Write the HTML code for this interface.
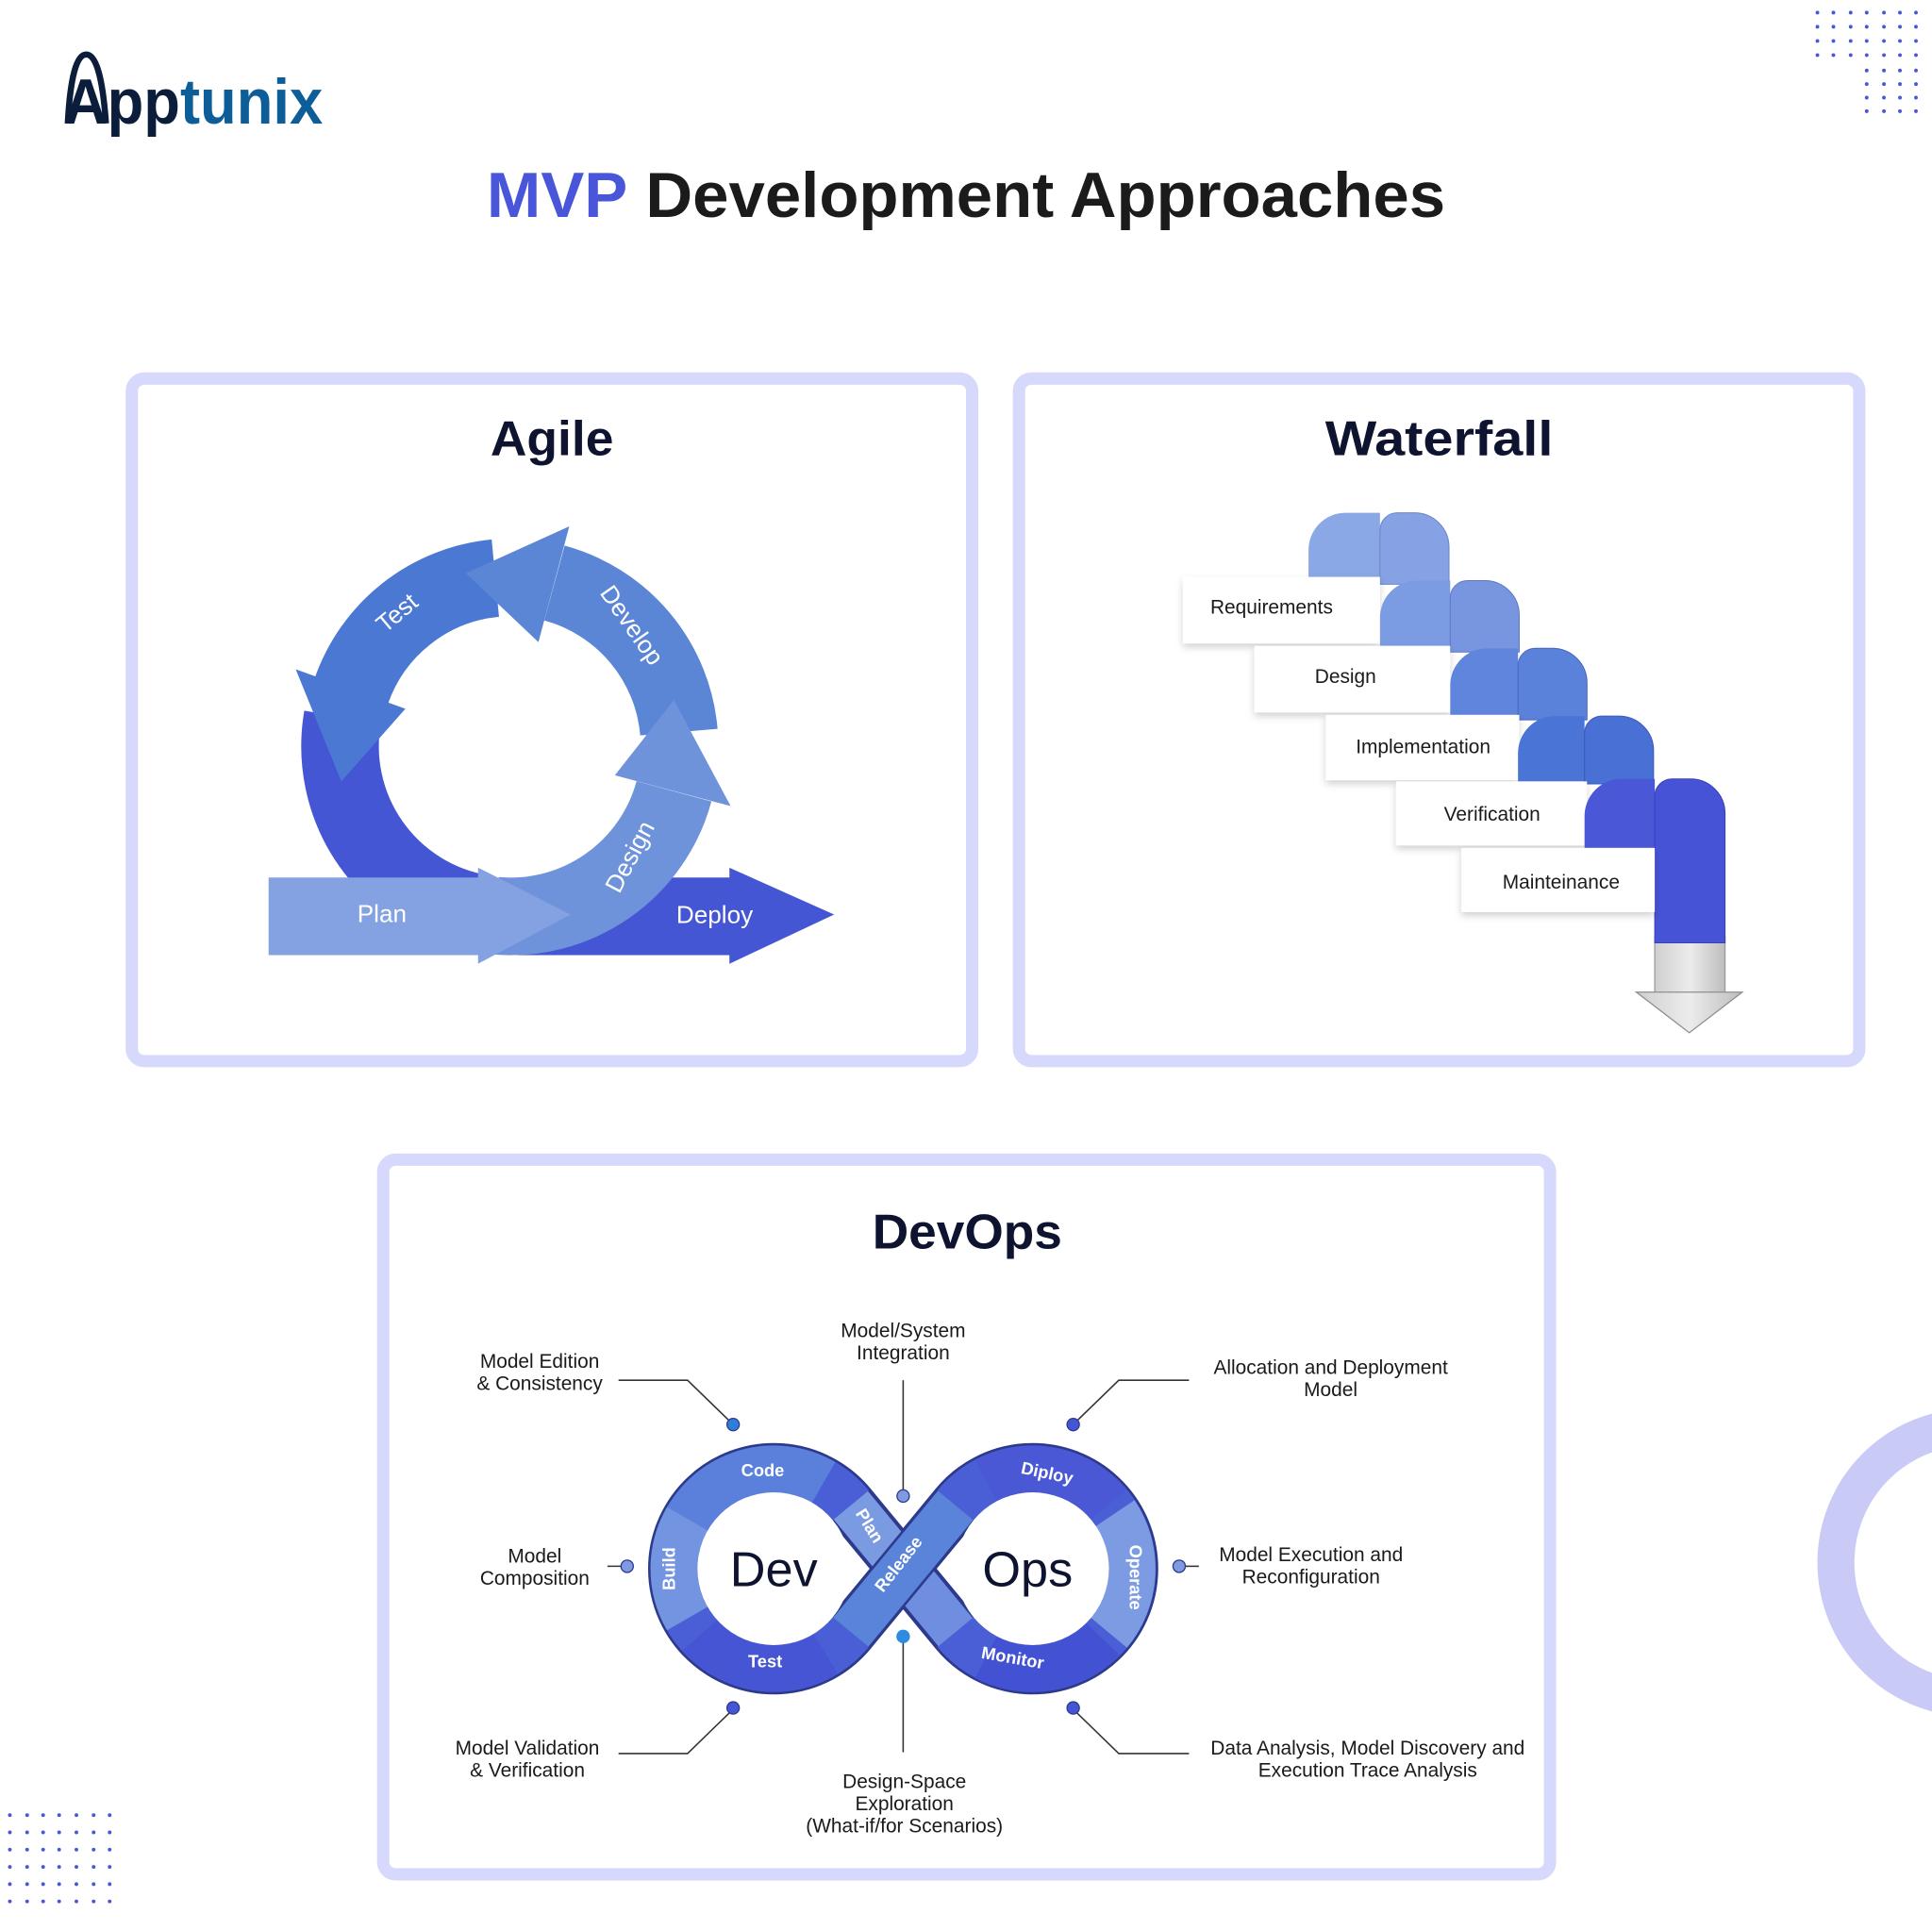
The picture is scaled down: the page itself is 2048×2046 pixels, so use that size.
<!DOCTYPE html>
<html><head><meta charset="utf-8"><style>
html,body{margin:0;padding:0;background:#fff;}
svg{display:block;}
text{font-family:"Liberation Sans",sans-serif;}
</style></head><body>
<svg width="2048" height="2046" viewBox="0 0 1568 1566" xmlns="http://www.w3.org/2000/svg">
<defs>
<linearGradient id="gr" x1="0" y1="0" x2="1" y2="0"><stop offset="0" stop-color="#cfcfcf"/><stop offset="0.5" stop-color="#ececec"/><stop offset="1" stop-color="#bdbdbd"/></linearGradient>
<filter id="sh" x="-20%" y="-20%" width="140%" height="160%"><feDropShadow dx="0" dy="3" stdDeviation="3" flood-color="#000" flood-opacity="0.18"/></filter>
</defs>
<rect width="1568" height="1566" fill="#fff"/>

<!-- decor dots top right -->
<g fill="#4a56d9">
<g id="r1"><circle cx="1475" cy="10" r="1.5"/><circle cx="1488" cy="10" r="1.5"/><circle cx="1502" cy="10" r="1.5"/><circle cx="1515" cy="10" r="1.5"/><circle cx="1529" cy="10" r="1.5"/><circle cx="1542" cy="10" r="1.5"/><circle cx="1555" cy="10" r="1.5"/></g>
<use href="#r1" y="11.5"/><use href="#r1" y="23"/><use href="#r1" y="34.5"/>
<g id="r2"><circle cx="1515" cy="57" r="1.5"/><circle cx="1529" cy="57" r="1.5"/><circle cx="1542" cy="57" r="1.5"/><circle cx="1555" cy="57" r="1.5"/></g>
<use href="#r2" y="11"/><use href="#r2" y="22"/><use href="#r2" y="33"/>
</g>
<!-- decor dots bottom left -->
<g fill="#4a56d9">
<g id="r3"><circle cx="8" cy="1473" r="1.5"/><circle cx="22" cy="1473" r="1.5"/><circle cx="35" cy="1473" r="1.5"/><circle cx="48" cy="1473" r="1.5"/><circle cx="62" cy="1473" r="1.5"/><circle cx="76" cy="1473" r="1.5"/><circle cx="89" cy="1473" r="1.5"/></g>
<use href="#r3" y="14"/><use href="#r3" y="28"/><use href="#r3" y="42"/><use href="#r3" y="56"/><use href="#r3" y="70"/>
</g>
<!-- right ring -->
<circle cx="1600" cy="1268" r="110" fill="none" stroke="#c9cbf6" stroke-width="30"/>

<!-- logo -->
<path d="M55,100 Q58,44 70,44 Q82,44 86,100" fill="none" stroke="#0b1d3a" stroke-width="5"/>
<text x="52" y="100" font-size="52" font-weight="bold" fill="#0b1d3a" textLength="210" lengthAdjust="spacingAndGlyphs">App<tspan fill="#0d5e98">tunix</tspan></text>

<!-- title -->
<text x="395" y="176" font-size="52" font-weight="bold" fill="#1b1b1b" textLength="778" lengthAdjust="spacingAndGlyphs"><tspan fill="#4a56d9">MVP</tspan> Development Approaches</text>

<!-- boxes -->
<rect x="107" y="307" width="682" height="554" rx="10" fill="#fff" stroke="#d6d9fb" stroke-width="10"/>
<rect x="827" y="307" width="682" height="554" rx="10" fill="#fff" stroke="#d6d9fb" stroke-width="10"/>
<rect x="311" y="941" width="947" height="580" rx="10" fill="#fff" stroke="#d6d9fb" stroke-width="10"/>

<text x="448" y="369" font-size="40" font-weight="bold" fill="#0e1330" text-anchor="middle" textLength="100" lengthAdjust="spacingAndGlyphs">Agile</text>
<text x="1168" y="369" font-size="40" font-weight="bold" fill="#0e1330" text-anchor="middle" textLength="185" lengthAdjust="spacingAndGlyphs">Waterfall</text>
<text x="785" y="1013" font-size="40" font-weight="bold" fill="#0e1330" text-anchor="middle" textLength="154" lengthAdjust="spacingAndGlyphs">DevOps</text>

<!-- AGILE -->
<g>
<rect x="420" y="712" width="175" height="63" fill="#4456d4"/>
<polygon points="592,704 677,742 592,782" fill="#4456d4"/>
<path d="M390,741 A137.5,137.5 0 0 1 278,582" fill="none" stroke="#4456d4" stroke-width="63"/>
<path d="M402,469 A137.5,137.5 0 0 0 285,561" fill="none" stroke="#4a78d3" stroke-width="63"/>
<path d="M551,594 A137.5,137.5 0 0 0 450,473" fill="none" stroke="#5b86d6" stroke-width="63"/>
<polygon points="437,521 462,427 378,465" fill="#5b86d6"/>
<polygon points="329,575 240,543 277,634" fill="#4a78d3"/>
<path d="M402,743 A137.5,137.5 0 0 0 547,642" fill="none" stroke="#6f93db" stroke-width="63"/>
<polygon points="499,629 593,654 547,568" fill="#6f93db"/>
<rect x="218" y="712" width="172" height="63" fill="#84a2e2"/>
<polygon points="388,704 463,742 388,782" fill="#84a2e2"/>
<text x="310" y="748" font-size="20" fill="#fff" text-anchor="middle">Plan</text>
<text x="580" y="749" font-size="20" fill="#fff" text-anchor="middle">Deploy</text>
<text x="322" y="504" font-size="20" fill="#fff" text-anchor="middle" transform="rotate(-40 322 497)">Test</text>
<text x="513" y="514" font-size="20" fill="#fff" text-anchor="middle" transform="rotate(55 513 507)">Develop</text>
<text x="511" y="702" font-size="20" fill="#fff" text-anchor="middle" transform="rotate(-62 511 695)">Design</text>
</g>

<!-- WATERFALL -->
<g>
<rect x="1343" y="760" width="57" height="46" fill="url(#gr)" stroke="#9a9a9a" stroke-width="1"/>
<polygon points="1328,805 1414,805 1371,838" fill="url(#gr)" stroke="#8f8f8f" stroke-width="1"/>
<path d="M1062,470 V446 A30,30 0 0 1 1092,416 H1120 V470 Z" fill="#8aa7e6"/>
<path d="M1120,474 V430 A14,14 0 0 1 1134,416 H1148 A28,28 0 0 1 1176,444 V474 Z" fill="#86a2e4" stroke="#6d86c9" stroke-width="0.8"/>
<rect x="960" y="468" width="160" height="54" fill="#fff" filter="url(#sh)"/>
<text x="1032" y="498" font-size="16" fill="#1a1a1a" text-anchor="middle">Requirements</text>
<path d="M1120,524 V501 A30,30 0 0 1 1150,471 H1177 V524 Z" fill="#7b9be3"/>
<path d="M1177,529 V485 A14,14 0 0 1 1191,471 H1205 A28,28 0 0 1 1233,499 V529 Z" fill="#7896e0" stroke="#5f79c2" stroke-width="0.8"/>
<rect x="1018" y="524" width="159" height="54" fill="#fff" filter="url(#sh)"/>
<text x="1092" y="554" font-size="16" fill="#1a1a1a" text-anchor="middle">Design</text>
<path d="M1177,580 V556 A30,30 0 0 1 1207,526 H1232 V580 Z" fill="#5f86dc"/>
<path d="M1232,584 V540 A14,14 0 0 1 1246,526 H1260 A28,28 0 0 1 1288,554 V584 Z" fill="#5b82da" stroke="#4a68bd" stroke-width="0.8"/>
<rect x="1076" y="580" width="157" height="53" fill="#fff" filter="url(#sh)"/>
<text x="1155" y="611" font-size="16" fill="#1a1a1a" text-anchor="middle">Implementation</text>
<path d="M1232,634 V611 A30,30 0 0 1 1262,581 H1286 V634 Z" fill="#4b74d7"/>
<path d="M1286,636 V595 A14,14 0 0 1 1300,581 H1314 A28,28 0 0 1 1342,609 V636 Z" fill="#4870d5" stroke="#3b5ab8" stroke-width="0.8"/>
<rect x="1133" y="634" width="155" height="52" fill="#fff" filter="url(#sh)"/>
<text x="1211" y="666" font-size="16" fill="#1a1a1a" text-anchor="middle">Verification</text>
<path d="M1286,688 V662 A30,30 0 0 1 1316,632 H1343 V688 Z" fill="#4a58d8"/>
<path d="M1343,765 V646 A14,14 0 0 1 1357,632 H1372 A28,28 0 0 1 1400,660 V765 Z" fill="#4753d6" stroke="#3742b6" stroke-width="0.8"/>
<rect x="1186" y="688" width="157" height="52" fill="#fff" filter="url(#sh)"/>
<text x="1267" y="721" font-size="16" fill="#1a1a1a" text-anchor="middle">Mainteinance</text>
</g>

<!-- DEVOPS -->
<g>
<path d="M690.5,1324.5 L775.5,1221.5 A81,81 0 1 1 775.5,1324.5 L690.5,1221.5 A81,81 0 1 0 690.5,1324.5 Z" fill="none" stroke="#2d3a8c" stroke-width="42" stroke-linejoin="round"/>
<path d="M690.5,1324.5 L775.5,1221.5 A81,81 0 1 1 775.5,1324.5 L690.5,1221.5 A81,81 0 1 0 690.5,1324.5 Z" fill="none" stroke="#4a5fd6" stroke-width="38" stroke-linejoin="round"/>
<path d="M551.9,1245.3 A81,81 0 0 1 668.5,1202.9" fill="none" stroke="#5a80dc" stroke-width="38"/>
<path d="M557.8,1313.5 A81,81 0 0 1 557.8,1232.5" fill="none" stroke="#7394e0" stroke-width="38"/>
<path d="M568,1327 A81,81 0 0 0 670,1342" fill="none" stroke="#4655d4" stroke-width="38"/>
<path d="M800,1201.5 A81,81 0 0 1 900,1221" fill="none" stroke="#4a58d6" stroke-width="38"/>
<path d="M905,1228 A81,81 0 0 1 900,1325" fill="none" stroke="#7d9be2" stroke-width="38"/>
<path d="M895,1330 A81,81 0 0 1 800,1345" fill="none" stroke="#4352d2" stroke-width="38"/>
<line x1="690.5" y1="1221.5" x2="775.5" y2="1324.5" stroke="#2d3a8c" stroke-width="40"/>
<line x1="690.5" y1="1221.5" x2="733" y2="1273" stroke="#7a9ae2" stroke-width="36"/>
<line x1="733" y1="1273" x2="775.5" y2="1324.5" stroke="#6f8ee0" stroke-width="36"/>
<line x1="690.5" y1="1324.5" x2="775.5" y2="1221.5" stroke="#2d3a8c" stroke-width="41"/>
<line x1="690.5" y1="1324.5" x2="775.5" y2="1221.5" stroke="#5a84da" stroke-width="37"/>
<circle cx="628" cy="1273" r="62" fill="#fff"/>
<circle cx="838" cy="1273" r="62" fill="#fff"/>
<text x="628" y="1287" font-size="40" fill="#0e1330" text-anchor="middle">Dev</text>
<text x="834" y="1287" font-size="40" fill="#0e1330" text-anchor="middle">Ops</text>
<g font-size="14" font-weight="bold" fill="#fff" text-anchor="middle">
<text x="619" y="1198">Code</text>
<text x="543" y="1278" transform="rotate(-90 543 1273)">Build</text>
<text x="621" y="1353">Test</text>
<text x="706" y="1243" transform="rotate(58 706 1238)">Plan</text>
<text x="729" y="1274" transform="rotate(-52 729 1269)">Release</text>
<text x="850" y="1200" transform="rotate(12 850 1195)">Diploy</text>
<text x="922" y="1285" transform="rotate(90 922 1280)">Operate</text>
<text x="822" y="1350" transform="rotate(10 822 1345)">Monitor</text>
</g>
<g fill="none" stroke="#333" stroke-width="1.2">
<polyline points="502,1120 558,1120 593,1154"/>
<line x1="733" y1="1120" x2="733" y2="1209"/>
<polyline points="965,1120 908,1120 873,1154"/>
<line x1="493" y1="1271" x2="505" y2="1271"/>
<line x1="961" y1="1271" x2="973" y2="1271"/>
<polyline points="502,1423 558,1423 593,1389"/>
<line x1="733" y1="1333" x2="733" y2="1422"/>
<polyline points="965,1423 908,1423 873,1389"/>
</g>
<g stroke="#2d3a8c" stroke-width="1">
<circle cx="595" cy="1156" r="5" fill="#2e7fd9"/>
<circle cx="733" cy="1214" r="5" fill="#7e9be2"/>
<circle cx="871" cy="1156" r="5" fill="#4356d4"/>
<circle cx="509" cy="1271" r="5" fill="#7e9be2"/>
<circle cx="957" cy="1271" r="5" fill="#7e9be2"/>
<circle cx="595" cy="1386" r="5" fill="#4356d4"/>
<circle cx="733" cy="1328" r="5.5" fill="#2e8be0" stroke="none"/>
<circle cx="871" cy="1386" r="5" fill="#4356d4"/>
</g>
<g font-size="16" fill="#1a1a1a" text-anchor="middle">
<text x="438" y="1110">Model Edition</text><text x="438" y="1128">&amp; Consistency</text>
<text x="733" y="1085">Model/System</text><text x="733" y="1103">Integration</text>
<text x="1080" y="1115">Allocation and Deployment</text><text x="1080" y="1133">Model</text>
<text x="434" y="1268">Model</text><text x="434" y="1286">Composition</text>
<text x="1064" y="1267">Model Execution and</text><text x="1064" y="1285">Reconfiguration</text>
<text x="428" y="1424">Model Validation</text><text x="428" y="1442">&amp; Verification</text>
<text x="734" y="1451">Design-Space</text><text x="734" y="1469">Exploration</text><text x="734" y="1487">(What-if/for Scenarios)</text>
<text x="1110" y="1424">Data Analysis, Model Discovery and</text><text x="1110" y="1442">Execution Trace Analysis</text>
</g>
</g>
</svg>
</body></html>
